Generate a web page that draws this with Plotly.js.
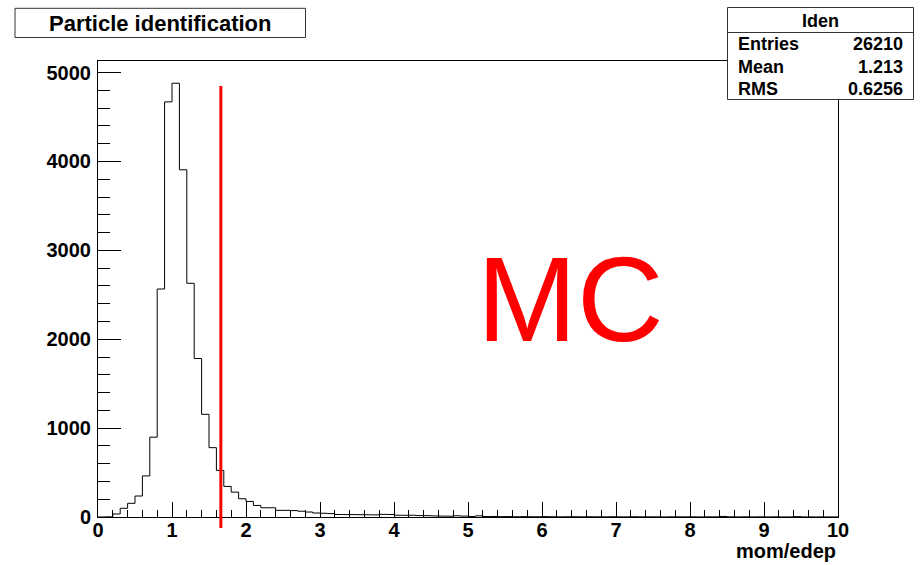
<!DOCTYPE html>
<html>
<head>
<meta charset="utf-8">
<script src="https://cdn.plot.ly/plotly-3.0.1.min.js"></script>
<style>html,body{margin:0;padding:0;background:#fff;}#chart{width:920px;height:565px;}</style>
</head>
<body>
<div id="chart"></div>
<script>
// ---- data ----
const histName = "Iden";
const chartTitle = "Particle identification";
const xTitle = "mom/edep";
const binLow = 0;
const binWidth = 0.1;
const counts = [
  0, 2, 34, 98, 154, 236, 462, 898, 2565, 4670,
  4880, 3906, 2629, 1783, 1155, 780, 524, 344, 280, 205,
  175, 130, 104, 104, 75, 75, 72, 65, 56, 45,
  42, 38, 28, 27, 27, 26, 25, 24, 30, 28,
  20, 19, 20, 16, 15, 12, 10, 9, 14, 10,
  6, 13, 5, 6, 4, 5, 3, 4, 3, 3,
  4, 3, 2, 3, 3, 2, 3, 2, 2, 3,
  2, 2, 3, 2, 2, 2, 1, 2, 2, 2,
  2, 1, 2, 2, 6, 2, 1, 2, 1, 2,
  1, 2, 1, 1, 4, 1, 1, 1, 1, 1
];
const statLabels = ["Entries", "Mean", "RMS"];
const statValues = ["26210", "1.213", "0.6256"];
const cutX = [1.66];
const cutYRange = [-125, 4850];
const mcLabel = "MC";
const mcPos = [6.38, 2450];
const yMax = 5130;
const xRange = [0, 10];

// ---- build step outline ----
const edges = [];
for (let i = 0; i <= counts.length; i++) edges.push(+(binLow + i * binWidth).toFixed(4));
const ySteps = counts.concat([counts[counts.length - 1]]);

const W = 920, H = 565;
const M = {l: 98, r: 82, t: 61, b: 48};
const pw = W - M.l - M.r, ph = H - M.t - M.b;
const px = x => (x - M.l) / pw;
const py = y => (H - M.b - y) / ph;

const FONT = "Liberation Sans, Arial, Helvetica, sans-serif";

const trace = {
  type: "scatter", mode: "lines",
  x: edges, y: ySteps,
  line: {shape: "hv", color: "#000", width: 1},
  hoverinfo: "x+y", showlegend: false
};

const shapes = [
  // cut line
  {type: "line", xref: "x", yref: "paper", x0: cutX[0], x1: cutX[0],
   y0: cutYRange[0] / yMax, y1: cutYRange[1] / yMax,
   line: {color: "#ff0000", width: 3}, layer: "above"},
  // title box
  {type: "rect", xref: "paper", yref: "paper", x0: px(15), x1: px(305.5), y0: py(37.5), y1: py(8.3),
   line: {color: "#333", width: 1}, fillcolor: "#fff"},
  // stats box
  {type: "rect", xref: "paper", yref: "paper", x0: px(727.5), x1: px(913.5), y0: py(99.5), y1: py(7.5),
   line: {color: "#333", width: 1}, fillcolor: "#fff"},
  {type: "line", xref: "paper", yref: "paper", x0: px(727.5), x1: px(913.5), y0: py(32.5), y1: py(32.5),
   line: {color: "#333", width: 1}}
];

const annotations = [
  {text: chartTitle, xref: "paper", yref: "paper", x: px(160), y: py(23), xanchor: "center", yanchor: "middle",
   showarrow: false, font: {family: FONT, size: 22, weight: "bold", color: "#000"}},
  {text: histName, xref: "paper", yref: "paper", x: px(820), y: py(21), xanchor: "center", yanchor: "middle",
   showarrow: false, font: {family: FONT, size: 18, weight: "bold", color: "#000"}},
  {text: xTitle, xref: "paper", yref: "paper", x: px(838), y: py(551), xanchor: "right", yanchor: "middle",
   showarrow: false, font: {family: FONT, size: 20, weight: "bold", color: "#000"}},
  {text: mcLabel, xref: "x", yref: "y", x: mcPos[0], y: mcPos[1], xanchor: "center", yanchor: "middle",
   showarrow: false, font: {family: FONT, size: 120, color: "#ff0000"}}
];
const rowY = [44, 67, 89];
statLabels.forEach((lab, i) => {
  annotations.push({text: lab, xref: "paper", yref: "paper", x: px(736), y: py(rowY[i]), xanchor: "left", yanchor: "middle",
    showarrow: false, font: {family: FONT, size: 18, weight: "bold", color: "#000"}});
  annotations.push({text: statValues[i], xref: "paper", yref: "paper", x: px(905), y: py(rowY[i]), xanchor: "right", yanchor: "middle",
    showarrow: false, font: {family: FONT, size: 18, weight: "bold", color: "#000"}});
});

const tickFont = {family: FONT, size: 20, weight: "bold", color: "#000"};
const layout = {
  width: W, height: H,
  margin: M,
  paper_bgcolor: "#fff", plot_bgcolor: "#fff",
  showlegend: false,
  xaxis: {
    range: xRange, dtick: 1, tick0: 0, ticks: "inside", ticklen: 15, tickwidth: 1, tickcolor: "#000",
    minor: {dtick: 0.2, ticks: "inside", ticklen: 7, tickwidth: 1, tickcolor: "#000", showgrid: false},
    showline: true, linecolor: "#000", linewidth: 1, mirror: true,
    showgrid: false, zeroline: false, tickfont: tickFont, ticklabelstandoff: -5
  },
  yaxis: {
    range: [0, yMax], dtick: 1000, tick0: 0, ticks: "inside", ticklen: 23, tickwidth: 1, tickcolor: "#000",
    minor: {dtick: 200, ticks: "inside", ticklen: 12, tickwidth: 1, tickcolor: "#000", showgrid: false},
    showline: true, linecolor: "#000", linewidth: 1, mirror: true,
    showgrid: false, zeroline: false, tickfont: tickFont, ticklabelstandoff: 2
  },
  shapes: shapes,
  annotations: annotations
};

Plotly.newPlot("chart", [trace], layout, {displayModeBar: false, staticPlot: true});
</script>
</body>
</html>
